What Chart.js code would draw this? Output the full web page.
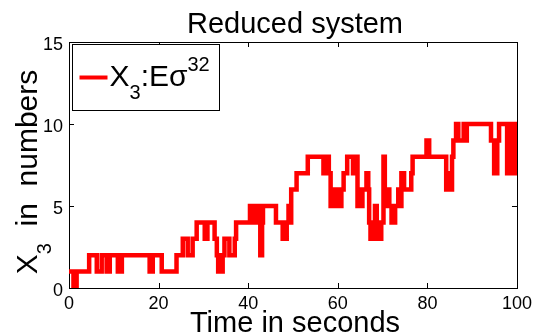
<!DOCTYPE html>
<html>
<head>
<meta charset="utf-8">
<script src="https://cdn.jsdelivr.net/npm/chart.js@4"></script>
<style>
  html, body { margin: 0; padding: 0; background: #fff; }
  canvas { display: block; }
</style>
</head>
<body>
<canvas id="chart" width="537" height="333"></canvas>
<script>
// Stairs data: each value holds from its time until the next time.
let step_times = [0, 1.0, 1.7, 4.5, 6.2, 7.3, 8.4, 9.1, 10.9, 11.8,
                  18.0, 18.7, 20.7, 24.0, 25.4, 26.5, 27.6, 28.5, 30.3, 30.9,
                  32.5, 33.0, 33.3, 34.3, 34.7, 35.8, 37.0, 37.3, 40.4, 40.7,
                  41.3, 41.6, 42.3, 42.6, 42.7, 43.1, 43.3, 46.2, 47.7, 48.6,
                  49.0, 49.3, 49.6, 50.8, 53.3, 56.8, 57.7, 58.0, 58.4, 59.0,
                  59.3, 59.8, 60.1, 60.8, 61.3, 62.1, 63.4, 63.7, 64.4, 64.7,
                  65.2, 65.5, 66.4, 66.8, 67.0, 67.3, 68.3, 68.7, 69.7, 70.2,
                  70.5, 71.0, 71.5, 72.0, 72.8, 73.5, 73.8, 74.2, 74.8, 76.4,
                  76.7, 79.8, 80.4, 84.2, 84.6, 85.0, 85.5, 85.8, 86.4, 86.9,
                  88.1, 88.4, 88.8, 94.2, 94.9, 95.6, 96.0, 97.8, 98.7, 99.0,
                  99.4, 99.7, 100]
let step_values = [1, 0, 1, 2, 1, 2, 1, 2, 1, 2,
                   1, 2, 1, 2, 3, 2, 3, 4, 3, 4,
                   3, 2, 1, 2, 3, 2, 3, 4, 5, 4,
                   5, 4, 5, 4, 2, 4, 5, 4, 3, 4,
                   5, 4, 6, 7, 8, 7, 8, 7, 5, 6,
                   5, 6, 5, 6, 7, 8, 7, 8, 5, 6,
                   5, 6, 7, 6, 4, 3, 5, 3, 4, 8,
                   5, 6, 5, 4, 5, 6, 5, 7, 6, 7,
                   8, 9, 8, 6, 7, 6, 8, 9, 10, 9,
                   10, 9, 10, 9, 7, 9, 10, 7, 10, 7,
                   10, 7, 7]

let x_ticks = [0, 20, 40, 60, 80, 100]
let y_ticks = [0, 5, 10, 15]

let chart_title = "Reduced system"
let x_label = "Time in seconds"
// Rich text pieces: [text, kind] where kind is "", "sub" or "sup"
let y_label = [["X", ""], ["3", "sub"], ["  in  numbers", ""]]
let legend_label = [["X", ""], ["3", "sub"], [":E\u03c3", ""], ["32", "sup"]]

const FONT = "'Liberation Sans', Arial, Helvetica, sans-serif"
const RED = "#ff0000"

let points = step_times.map((t, i) => ({x: t, y: step_values[i]}))

// Width of a run of rich text pieces at the given base size.
function rich_width(ctx, parts, size) {
    let w = 0
    for (let [s, kind] of parts) {
        ctx.font = (kind ? Math.round(size * 0.65) : size) + "px " + FONT
        w += ctx.measureText(s).width
    }
    return w
}

// Draw text with sub/superscripts, starting at x with baseline y.
function draw_rich(ctx, parts, x, y, size) {
    ctx.textBaseline = "alphabetic"
    ctx.textAlign = "left"
    for (let [s, kind] of parts) {
        let dy = 0
        if (kind == "sub") {
            dy = size * 0.45
        } else if (kind == "sup") {
            dy = -size * 0.5
        }
        ctx.font = (kind ? Math.round(size * 0.65) : size) + "px " + FONT
        ctx.fillText(s, x, y + dy)
        x += ctx.measureText(s).width
    }
}

// MATLAB style decorations: boxed axes with inward ticks, labels, title and legend.
let matlab_look = {
    id: "matlab_look",
    beforeDatasetsDraw(chart) {
        let ctx = chart.ctx
        let ca = chart.chartArea
        let xs = chart.scales.x
        let ys = chart.scales.y
        ctx.save()
        ctx.strokeStyle = "#000"
        ctx.lineWidth = 1
        ctx.beginPath()
        for (let t of x_ticks) {
            let px = Math.round(xs.getPixelForValue(t)) + 0.5
            ctx.moveTo(px, ca.bottom)
            ctx.lineTo(px, ca.bottom - 5)
            ctx.moveTo(px, ca.top)
            ctx.lineTo(px, ca.top + 5)
        }
        for (let v of y_ticks) {
            let py = Math.round(ys.getPixelForValue(v)) + 0.5
            ctx.moveTo(ca.left, py)
            ctx.lineTo(ca.left + 5, py)
            ctx.moveTo(ca.right, py)
            ctx.lineTo(ca.right - 5, py)
        }
        ctx.stroke()
        ctx.strokeRect(Math.round(ca.left) + 0.5, Math.round(ca.top) + 0.5,
                       Math.round(ca.right - ca.left), Math.round(ca.bottom - ca.top))
        ctx.restore()
    },
    afterDraw(chart) {
        let ctx = chart.ctx
        let ca = chart.chartArea
        let cx = (ca.left + ca.right) / 2
        ctx.save()
        ctx.fillStyle = "#000"

        // title
        ctx.font = "29px " + FONT
        ctx.textAlign = "center"
        ctx.textBaseline = "alphabetic"
        ctx.fillText(chart_title, cx + 2, 32.5)

        // x axis title, it overlaps the tick labels as in the original
        ctx.fillText(x_label, cx + 2, 332)

        // y axis title, rotated
        let yw = rich_width(ctx, y_label, 30)
        ctx.translate(37, (ca.top + ca.bottom) / 2 + 7)
        ctx.rotate(-Math.PI / 2)
        draw_rich(ctx, y_label, -yw / 2, 0, 30)
        ctx.restore()

        // legend box in the upper left corner
        ctx.save()
        let bx = ca.left + 3.5, by = ca.top + 2.5, bw = 147, bh = 66
        ctx.fillStyle = "#fff"
        ctx.fillRect(bx, by, bw, bh)
        ctx.strokeStyle = "#000"
        ctx.lineWidth = 1
        ctx.strokeRect(bx, by, bw, bh)
        ctx.strokeStyle = RED
        ctx.lineWidth = 4
        ctx.beginPath()
        ctx.moveTo(bx + 7, by + 33)
        ctx.lineTo(bx + 35, by + 33)
        ctx.stroke()
        ctx.fillStyle = "#000"
        draw_rich(ctx, legend_label, bx + 37, by + 41, 30)
        ctx.restore()
    }
}

new Chart(document.getElementById("chart"), {
    type: "line",
    data: {
        datasets: [{
            data: points,
            stepped: true,
            borderColor: RED,
            borderWidth: 4.5,
            pointRadius: 0,
            fill: false,
        }]
    },
    options: {
        responsive: false,
        animation: false,
        devicePixelRatio: 1,
        layout: { padding: { top: 42, right: 20, left: 0, bottom: 0 } },
        plugins: {
            legend: { display: false },
            title: { display: false },
            tooltip: { enabled: false },
        },
        scales: {
            x: {
                type: "linear",
                min: 0,
                max: 100,
                afterBuildTicks: (s) => { s.ticks = x_ticks.map(v => ({value: v})) },
                afterFit: (s) => { s.height = 45 },
                grid: { display: false, drawTicks: false },
                border: { display: false },
                ticks: {
                    color: "#000",
                    font: { size: 18, family: FONT },
                    padding: 5,
                    maxRotation: 0,
                    autoSkip: false,
                },
            },
            y: {
                min: 0,
                max: 15,
                afterBuildTicks: (s) => { s.ticks = y_ticks.map(v => ({value: v})) },
                afterFit: (s) => { s.width = 69 },
                grid: { display: false, drawTicks: false },
                border: { display: false },
                ticks: {
                    color: "#000",
                    font: { size: 18, family: FONT },
                    padding: 6,
                    labelOffset: 3,
                },
            },
        },
    },
    plugins: [matlab_look],
})
</script>
</body>
</html>
